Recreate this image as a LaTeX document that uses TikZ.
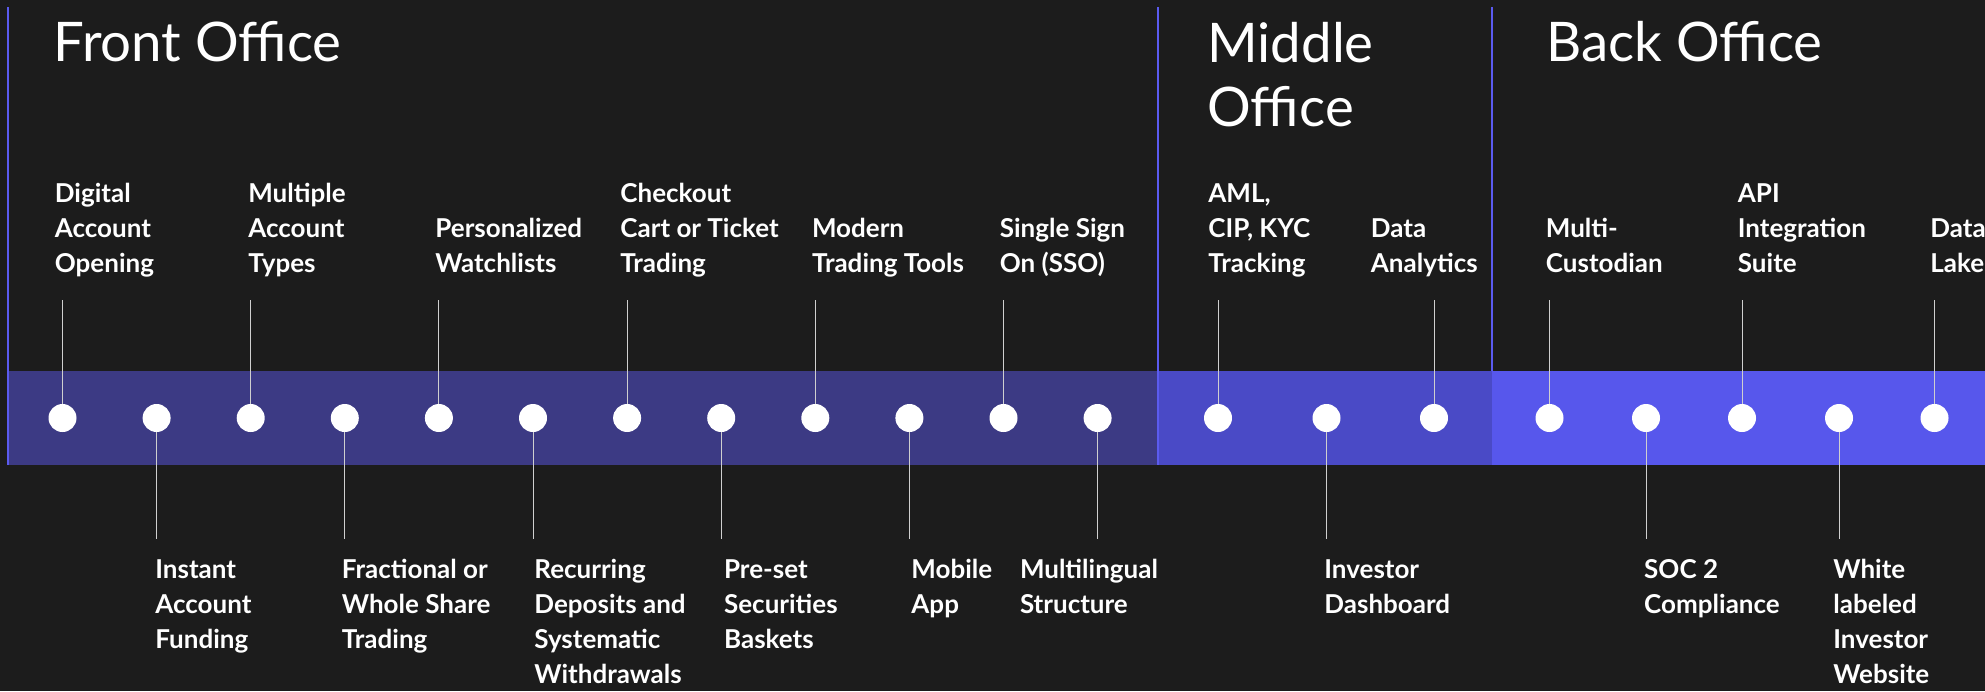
\documentclass[tikz,border=0pt]{standalone}
\usepackage{fontspec}
\setmainfont{Lato}
\definecolor{canvas}{HTML}{1C1C1C}
\definecolor{frontband}{HTML}{3C3A84}
\definecolor{middleband}{HTML}{4A4AC6}
\definecolor{backband}{HTML}{5757EC}
\definecolor{dividerblue}{HTML}{5B5BF0}
\definecolor{stemgray}{HTML}{CFCFCF}
\begin{document}
\begin{tikzpicture}[x=0.5pt,y=-0.5pt,
    bead/.style={circle,fill=white,inner sep=0pt,minimum size=14pt},
    stemline/.style={draw=stemgray,line width=0.5pt},
    divider/.style={draw=dividerblue,line width=1.2pt},
    item/.style={text=white,anchor=north west,align=left,inner sep=0pt,font=\bfseries\fontsize{13}{17.5}\selectfont},
    heading/.style={text=white,inner sep=0pt,align=left,font=\fontsize{27.3}{32}\selectfont}]
    \useasboundingbox (0,0) rectangle (1985,691);
    \fill[canvas] (0,0) rectangle (1985,691);
    \clip (0,0) rectangle (1985,691);
    % bands
    \fill[frontband] (8,371) rectangle (1158,465);
    \fill[middleband] (1158,371) rectangle (1492,465);
    \fill[backband] (1492,371) rectangle (1985,465);
    \draw[divider] (8,7) -- (8,465);
    \draw[divider] (1158,7) -- (1158,465);
    \draw[divider] (1492,7) -- (1492,371);
    % headings
    \node[heading,anchor=base west] (front) at (53,61) {Front Office};
    \node[heading,anchor=north west] (middle) at (1207,22) {Middle\\Office};
    \node[heading,anchor=base west] (back) at (1546,61) {Back Office};
    % front office
    \node[bead] (f1) at (62.5,418) {};
    \node[bead] (f2) at (156.6,418) {};
    \node[bead] (f3) at (250.7,418) {};
    \node[bead] (f4) at (344.8,418) {};
    \node[bead] (f5) at (438.9,418) {};
    \node[bead] (f6) at (533,418) {};
    \node[bead] (f7) at (627.1,418) {};
    \node[bead] (f8) at (721.2,418) {};
    \node[bead] (f9) at (815.3,418) {};
    \node[bead] (f10) at (909.4,418) {};
    \node[bead] (f11) at (1003.5,418) {};
    \node[bead] (f12) at (1097.6,418) {};
    % middle office
    \node[bead] (m1) at (1218,418) {};
    \node[bead] (m2) at (1326.5,418) {};
    \node[bead] (m3) at (1434,418) {};
    % back office
    \node[bead] (b1) at (1549.5,418) {};
    \node[bead] (b2) at (1646,418) {};
    \node[bead] (b3) at (1742,418) {};
    \node[bead] (b4) at (1839,418) {};
    \node[bead] (b5) at (1934.5,418) {};
    % labels above
    \node[item] (lf1) at (54.5,183) {Digital\\Account\\Opening};
    \node[item] (lf3) at (248,183) {Multiple\\Account\\Types};
    \node[item] (lf5) at (435,218) {Personalized\\Watchlists};
    \node[item] (lf7) at (620,183) {Checkout\\Cart or Ticket\\Trading};
    \node[item] (lf9) at (811.6,218) {Modern\\Trading Tools};
    \node[item] (lf11) at (999.5,218) {Single Sign\\On (SSO)};
    \node[item] (lm1) at (1208,183) {AML,\\CIP, KYC\\Tracking};
    \node[item] (lm3) at (1370.5,218) {Data\\Analytics};
    \node[item] (lb1) at (1545.5,218) {Multi-\\Custodian};
    \node[item] (lb3) at (1737.5,183) {API\\Integration\\Suite};
    \node[item] (lb5) at (1930,218) {Data\\Lake};
    % labels below
    \node[item] (lf2) at (155,559) {Instant\\Account\\Funding};
    \node[item] (lf4) at (341.5,559) {Fractional or\\Whole Share\\Trading};
    \node[item] (lf6) at (534,559) {Recurring\\Deposits and\\Systematic\\Withdrawals};
    \node[item] (lf8) at (723.7,559) {Pre-set\\Securities\\Baskets};
    \node[item] (lf10) at (911,559) {Mobile\\App};
    \node[item] (lf12) at (1019.6,559) {Multilingual\\Structure};
    \node[item] (lm2) at (1324,559) {Investor\\Dashboard};
    \node[item] (lb2) at (1643.8,559) {SOC 2\\Compliance};
    \node[item] (lb4) at (1833,559) {White\\labeled\\Investor\\Website};
    % stems up
    \foreach \n in {f1,f3,f5,f7,f9,f11,m1,m3,b1,b3,b5} {
        \coordinate (\n top) at ([yshift=59pt]\n.center);
        \draw[stemline] (\n) -- (\n top);
    }
    % stems down
    \foreach \n in {f2,f4,f6,f8,f10,f12,m2,b2,b4} {
        \coordinate (\n foot) at ([yshift=-60.5pt]\n.center);
        \draw[stemline] (\n) -- (\n foot);
    }
\end{tikzpicture}
\end{document}
